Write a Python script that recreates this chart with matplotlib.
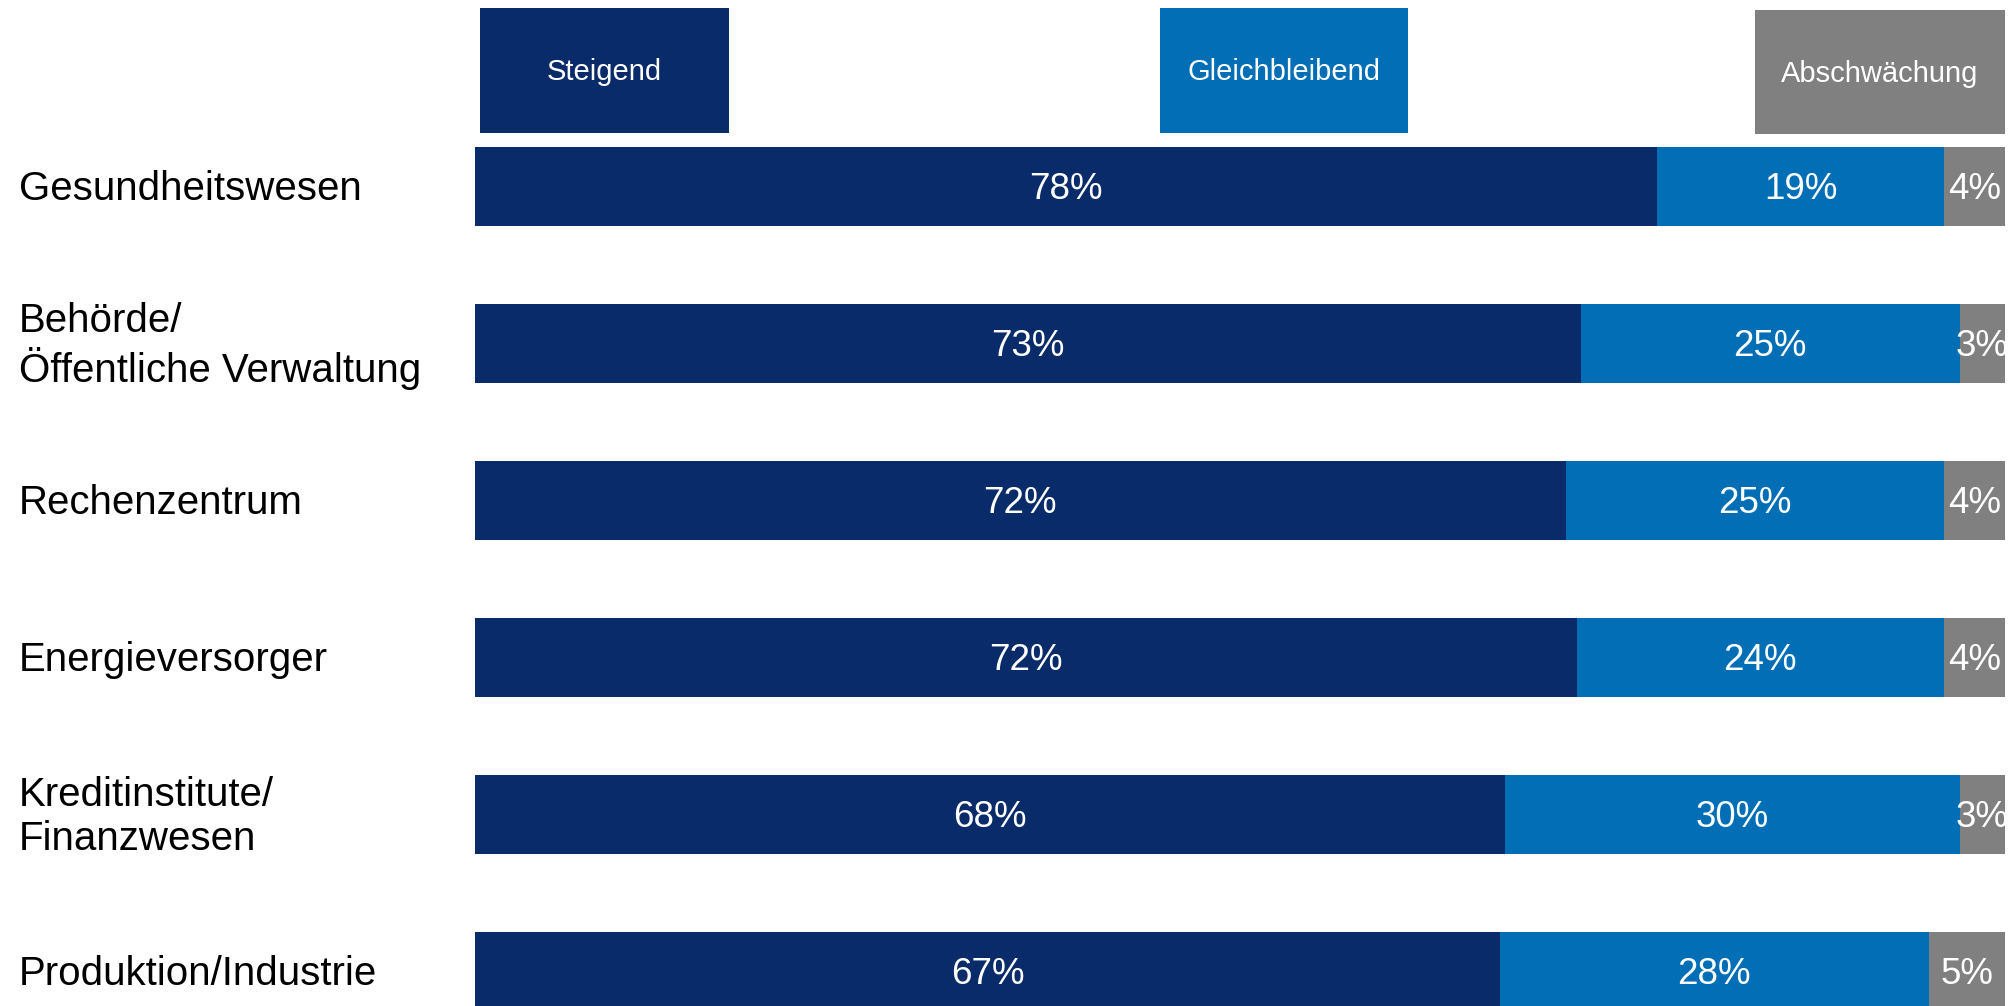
import matplotlib
matplotlib.use("Agg")
import matplotlib.pyplot as plt
from matplotlib.patches import Rectangle
import numpy as np

plt.rcParams['font.family'] = ['Liberation Sans', 'DejaVu Sans']

categories = ["Gesundheitswesen", "Behörde/\nÖffentliche Verwaltung", "Rechenzentrum",
              "Energieversorger", "Kreditinstitute/\nFinanzwesen", "Produktion/Industrie"]
steigend = [78, 73, 72, 72, 68, 67]
gleichbleibend = [19, 25, 25, 24, 30, 28]
abschwaechung = [4, 3, 4, 4, 3, 5]
series_names = ["Steigend", "Gleichbleibend", "Abschwächung"]
colors = ["#0A2B6A", "#016EB5", "#808080"]

W, H = 2009, 1006
fig = plt.figure(figsize=(W / 100, H / 100), dpi=100)

x0, x1 = 475, 2005
ax = fig.add_axes([x0 / W, 0, (x1 - x0) / W, 1])
unit = 157.0
c1 = 186.4
ax.set_ylim((H - c1) / unit, -c1 / unit)
ax.set_xlim(0, 100)
ax.axis('off')

data = np.array([steigend, gleichbleibend, abschwaechung], dtype=float)
totals = data.sum(axis=0)
shares = data / totals * 100
y = np.arange(len(categories))
left = np.zeros(len(categories))
for i in range(3):
    ax.barh(y, shares[i], left=left, height=0.5, color=colors[i], edgecolor='none')
    for j in range(len(categories)):
        ax.text(left[j] + shares[i][j] / 2, y[j] + 0.017, f"{int(data[i][j])}%",
                ha='center', va='center', color='white', fontsize=26.5)
    left += shares[i]

for j, cat in enumerate(categories):
    yc_px = c1 + j * unit + 2.5
    fig.text(19 / W, 1 - yc_px / H, cat, ha='left', va='center', fontsize=29,
             color='black', linespacing=1.2)

boxes = [(480, 8, 729, 133), (1160, 8, 1408, 133), (1755, 10, 2005, 134)]
for (bx0, by0, bx1, by1), name, col in zip(boxes, series_names, colors):
    fig.patches.append(Rectangle((bx0 / W, 1 - by1 / H), (bx1 - bx0) / W, (by1 - by0) / H,
                                 transform=fig.transFigure, facecolor=col, edgecolor='none'))
    fig.text((bx0 + bx1) / 2 / W, 1 - ((by0 + by1) / 2 + 2) / H, name, ha='center', va='center',
             color='white', fontsize=21)

fig.savefig("out.png", dpi=100, facecolor='white')
